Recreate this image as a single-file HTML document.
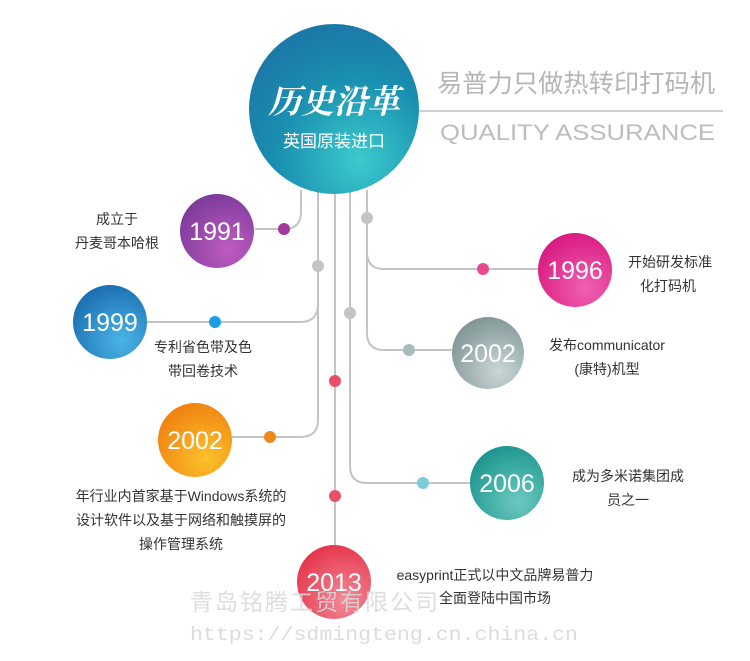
<!DOCTYPE html>
<html><head><meta charset="utf-8"><style>
html,body{margin:0;padding:0;background:#fff;}
svg{display:block;}
</style></head><body>
<svg width="750" height="661" viewBox="0 0 750 661" xmlns="http://www.w3.org/2000/svg" style="font-family:'Liberation Sans','Noto Sans CJK SC',sans-serif">
<defs>
<radialGradient id="gMain" cx="0.65" cy="0.8" r="0.8"><stop offset="0" stop-color="#3ccbcc"/><stop offset="0.6" stop-color="#1a8fb0"/><stop offset="1" stop-color="#1b79a8"/></radialGradient>
<radialGradient id="gPur" cx="0.65" cy="0.75" r="0.8"><stop offset="0" stop-color="#c05cc0"/><stop offset="1" stop-color="#7a3a9a"/></radialGradient>
<radialGradient id="gPink" cx="0.65" cy="0.75" r="0.8"><stop offset="0" stop-color="#f060b0"/><stop offset="1" stop-color="#d8187f"/></radialGradient>
<radialGradient id="gBlue" cx="0.65" cy="0.75" r="0.8"><stop offset="0" stop-color="#4ab5e6"/><stop offset="1" stop-color="#1a6cb0"/></radialGradient>
<radialGradient id="gGray" cx="0.65" cy="0.75" r="0.8"><stop offset="0" stop-color="#c9d6d6"/><stop offset="1" stop-color="#7f9494"/></radialGradient>
<radialGradient id="gOr" cx="0.65" cy="0.75" r="0.8"><stop offset="0" stop-color="#fcc12a"/><stop offset="1" stop-color="#ef8010"/></radialGradient>
<radialGradient id="gTeal" cx="0.65" cy="0.75" r="0.8"><stop offset="0" stop-color="#6cc9c0"/><stop offset="1" stop-color="#1a958c"/></radialGradient>
<radialGradient id="gRed" cx="0.65" cy="0.75" r="0.8"><stop offset="0" stop-color="#f28a98"/><stop offset="1" stop-color="#e4344a"/></radialGradient>
</defs>
<g fill="none" stroke="#c4c4c4" stroke-width="2">
<path d="M301 190 V212 Q301 229 284 229 H255"/>
<path d="M318 190 V304 Q318 322 300 322 H147"/>
<path d="M318 300 V420 Q318 437 300 437 H232"/>
<path d="M335 190 V546"/>
<path d="M350 190 V466 Q350 483 367 483 H470"/>
<path d="M367 190 V252 Q367 269 384 269 H538"/>
<path d="M367 250 V333 Q367 350 384 350 H452"/>
<line x1="419" y1="111" x2="723" y2="111" stroke="#cfcfcf"/>
</g>
<circle cx="334" cy="109" r="85" fill="url(#gMain)"/>
<text x="334" y="113" text-anchor="middle" fill="#fff" font-size="33" font-weight="bold" style="font-family:'Noto Serif CJK SC',serif;font-style:italic">历史沿革</text>
<text x="334" y="147" text-anchor="middle" fill="#fff" font-size="17">英国原装进口</text>
<text x="437" y="92" fill="#b5b5b5" font-size="25" textLength="278" lengthAdjust="spacingAndGlyphs">易普力只做热转印打码机</text>
<text x="440" y="140" fill="#bdbdbd" font-size="22" textLength="275" lengthAdjust="spacingAndGlyphs">QUALITY  ASSURANCE</text>
<g>
<circle cx="284" cy="229" r="6" fill="#a23a9c"/>
<circle cx="367" cy="218" r="6" fill="#c4c4c4"/>
<circle cx="483" cy="269" r="6" fill="#e8498f"/>
<circle cx="318" cy="266" r="6" fill="#c4c4c4"/>
<circle cx="215" cy="322" r="6" fill="#1a9ee0"/>
<circle cx="350" cy="313" r="6" fill="#c4c4c4"/>
<circle cx="409" cy="350" r="6" fill="#a9bcbc"/>
<circle cx="335" cy="381" r="6" fill="#e8506a"/>
<circle cx="270" cy="437" r="6" fill="#ee8a1c"/>
<circle cx="423" cy="483" r="6" fill="#7ccbd8"/>
<circle cx="335" cy="496" r="6" fill="#e8506a"/>
</g>
<g font-size="25" fill="#fff" text-anchor="middle">
<circle cx="217" cy="231" r="37" fill="url(#gPur)"/><text x="217" y="240">1991</text>
<circle cx="575" cy="270" r="37" fill="url(#gPink)"/><text x="575" y="279">1996</text>
<circle cx="110" cy="322" r="37" fill="url(#gBlue)"/><text x="110" y="331">1999</text>
<circle cx="488" cy="353" r="36" fill="url(#gGray)"/><text x="488" y="362">2002</text>
<circle cx="195" cy="440" r="37" fill="url(#gOr)"/><text x="195" y="449">2002</text>
<circle cx="507" cy="483" r="37" fill="url(#gTeal)"/><text x="507" y="492">2006</text>
<circle cx="334" cy="582" r="37" fill="url(#gRed)"/><text x="334" y="591">2013</text>
</g>
<g font-size="14" fill="#333" text-anchor="middle">
<text x="117" y="224">成立于</text><text x="117" y="248">丹麦哥本哈根</text>
<text x="670" y="267">开始研发标准</text><text x="668" y="291">化打码机</text>
<text x="203" y="352">专利省色带及色</text><text x="203" y="376">带回卷技术</text>
<text x="607" y="350">发布communicator</text><text x="607" y="374">(康特)机型</text>
<text x="181" y="501">年行业内首家基于Windows系统的</text><text x="181" y="525">设计软件以及基于网络和触摸屏的</text><text x="181" y="549">操作管理系统</text>
<text x="628" y="481">成为多米诺集团成</text><text x="628" y="505">员之一</text>
<text x="495" y="580">easyprint正式以中文品牌易普力</text><text x="495" y="603">全面登陆中国市场</text>
</g>
<text x="190" y="610" font-size="23" fill="#d8d8d8" opacity="0.85" letter-spacing="2">青岛铭腾工贸有限公司</text>
<text x="190" y="640" font-size="19" fill="#dcdcdc" textLength="388" lengthAdjust="spacingAndGlyphs" style="font-family:'Liberation Mono',monospace">https://sdmingteng.cn.china.cn</text>
</svg>
</body></html>
